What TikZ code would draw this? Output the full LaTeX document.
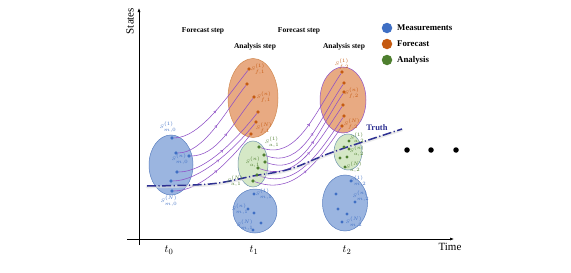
\documentclass[tikz,border=0pt]{standalone}
\usepackage{fontspec}
\setmainfont{Liberation Serif}
\usetikzlibrary{shapes.geometric,arrows.meta,decorations.markings}
\definecolor{mblue}{HTML}{3F6FC4}
\definecolor{mfill}{HTML}{9BB5E0}
\definecolor{mline}{HTML}{5A7FC0}
\definecolor{forange}{HTML}{C55A11}
\definecolor{ffill}{HTML}{E8AA82}
\definecolor{fline}{HTML}{D08850}
\definecolor{agreen}{HTML}{4E7F2F}
\definecolor{afill}{HTML}{D5E8C6}
\definecolor{aline}{HTML}{6F93B0}
\definecolor{cpurple}{HTML}{8E4FC6}
\definecolor{truthblue}{HTML}{2E3192}
\tikzset{
  ell/.style={ellipse, draw, line width=0.5pt, inner sep=0pt},
  meas/.style={ell, fill=mfill, draw=mline},
  fore/.style={ell, fill=ffill, draw=fline},
  anal/.style={ell, fill=afill, draw=aline},
  dotb/.style={circle, fill=mblue, inner sep=0pt, minimum size=3.3pt},
  doto/.style={circle, fill=forange, inner sep=0pt, minimum size=3.3pt},
  dotg/.style={circle, fill=agreen, inner sep=0pt, minimum size=3.3pt},
  lab/.style={inner sep=0pt, font=\fontsize{5.2}{6}\selectfont},
  labb/.style={lab, text=mblue},
  labo/.style={lab, text=forange},
  labg/.style={lab, text=agreen},
  flow/.style={draw=cpurple, line width=0.55pt,
    postaction={decorate},
    decoration={markings, mark=at position 0.5 with {\arrow{Straight Barb[length=1.6pt,width=2.8pt]}}}},
  steptext/.style={font=\fontsize{7.5}{8}\selectfont\bfseries, inner sep=0pt},
  legdot/.style={circle, inner sep=0pt, minimum size=10.5pt},
  legtext/.style={font=\fontsize{8.8}{10}\selectfont\bfseries, anchor=west, inner sep=0pt},
  axis/.style={line width=0.6pt, -{Latex[length=4pt,width=3pt]}},
  axtext/.style={font=\fontsize{11}{12}\selectfont, inner sep=0pt},
}
\begin{document}
\begin{tikzpicture}[x=1pt,y=-1pt]
\useasboundingbox (0,0) rectangle (571,273);

% axes
\coordinate (yb) at (139,245);
\coordinate (yt) at (139,8);
\coordinate (xl) at (127,239);
\coordinate (xr) at (454,239);
\draw[axis] (yb) -- (yt);
\draw[axis] (xl) -- (xr);
\node[axtext, rotate=90] (states) at (130,21) {States};
\node[axtext] (time) at (450,247) {Time};
\node[axtext] (t0) at (169,250) {$t_0$};
\node[axtext] (t1) at (254,250) {$t_1$};
\node[axtext] (t2) at (347,250) {$t_2$};

% step titles
\node[steptext] (fs1) at (203,31) {Forecast step};
\node[steptext] (fs2) at (299,31) {Forecast step};
\node[steptext] (as1) at (255,47) {Analysis step};
\node[steptext] (as2) at (344,47) {Analysis step};

% legend
\node[legdot, fill=mblue] (lg1) at (387,28) {};
\node[legdot, fill=forange] (lg2) at (387,44) {};
\node[legdot, fill=agreen] (lg3) at (387,60) {};
\node[legtext] (lt1) at (397,28) {Measurements};
\node[legtext] (lt2) at (397,44) {Forecast};
\node[legtext] (lt3) at (397,60) {Analysis};

% ellipses
\node[meas, minimum width=44pt, minimum height=60pt] (m0) at (171,165) {};
\node[fore, minimum width=50pt, minimum height=79pt] (f1e) at (253,98) {};
\node[anal, minimum width=30pt, minimum height=46pt] (a1e) at (253,164) {};
\node[meas, minimum width=44pt, minimum height=44pt] (m1) at (255,211) {};
\node[fore, draw=cpurple, minimum width=46pt, minimum height=66pt] (f2e) at (343,100) {};
\node[anal, minimum width=28pt, minimum height=36pt] (a2e) at (348,152) {};
\node[meas, minimum width=45pt, minimum height=56pt] (m2) at (345,203) {};

% measurement t0 points
\node[dotb] (p1) at (172,138) {};
\node[dotb] (p2) at (176,153) {};
\node[dotb] (p3) at (189,156) {};
\node[dotb] (p4) at (177,172) {};
\node[dotb] (p5) at (171,181) {};
\node[dotb] (p6) at (172,191) {};
% forecast t1 points
\node[doto] (f1) at (249,69) {};
\node[doto] (f2) at (247,84) {};
\node[doto] (f3) at (254,97) {};
\node[doto] (f4) at (258,112) {};
\node[doto] (f5) at (256,122) {};
\node[doto] (f6) at (251,134) {};
% analysis t1 points
\node[dotg] (a1) at (259,147) {};
\node[dotg] (a2) at (264,155) {};
\node[dotg] (a3) at (265,162) {};
\node[dotg] (a4) at (258,168) {};
\node[dotg] (a5) at (257,175) {};
\node[dotg] (a6) at (253,181) {};
% forecast t2 points
\node[doto] (g1) at (342,72) {};
\node[doto] (g2) at (344,83) {};
\node[doto] (g3) at (344,92) {};
\node[doto] (g4) at (343,105) {};
\node[doto] (g5) at (344,116) {};
\node[doto] (g6) at (342,126) {};

% flows t0 -> forecast t1
\foreach \s/\e in {p1/f1,p2/f2,p3/f3,p4/f4,p5/f5,p6/f6}
  \draw[flow] (\s) .. controls +(28,0) and +(-22,28) .. (\e);
% flows analysis t1 -> forecast t2
\foreach \s/\e in {a1/g1,a2/g2,a3/g3,a4/g4,a5/g5,a6/g6}
  \draw[flow] (\s) .. controls +(38,14) and +(-28,42) .. (\e);

% truth line
\draw[white!75!gray, line width=2.6pt, line cap=round, opacity=0.6]
  plot[smooth, tension=0.6] coordinates {(147,187) (210,185) (253,177) (290,170) (333,153) (402,130)};
\draw[truthblue, line width=1.5pt, dash pattern=on 9pt off 2.5pt on 1.2pt off 2.5pt]
  plot[smooth, tension=0.6] coordinates {(147,186) (210,184) (253,176) (290,169) (333,152) (402,129)};
\node[font=\fontsize{8.5}{9}\selectfont\bfseries, text=truthblue, inner sep=0pt] (truth) at (377,128) {Truth};

% redraw dots on top of lines
\foreach \n in {p1,p2,p3,p4,p5,p6} \node[dotb] at (\n) {};
\foreach \n in {a1,a2,a3,a4,a5,a6} \node[dotg] at (\n) {};
\foreach \n in {f1,f2,f3,f4,f5,f6,g1,g2,g3,g4,g5,g6} \node[doto] at (\n) {};

% analysis t2 points
\node[dotg] (b1) at (349,141) {};
\node[dotg] (b2) at (344,147) {};
\node[dotg] (b3) at (349,149) {};
\node[dotg] (b4) at (340,158) {};
\node[dotg] (b5) at (347,157) {};
\node[dotg] (b6) at (345,167) {};
% measurement t1 points
\node[dotb] (q1) at (254,194) {};
\node[dotb] (q2) at (248,209) {};
\node[dotb] (q3) at (254,213) {};
\node[dotb] (q4) at (261,223) {};
\node[dotb] (q5) at (253,230) {};
% measurement t2 points
\node[dotb] (r1) at (351,181) {};
\node[dotb] (r2) at (336,194) {};
\node[dotb] (r3) at (355,202) {};
\node[dotb] (r4) at (338,209) {};
\node[dotb] (r5) at (347,214) {};
\node[dotb] (r6) at (342,222) {};

% further time steps
\foreach \x [count=\i] in {407,431,456}
  \node[circle, fill=black, inner sep=0pt, minimum size=5.5pt] (more\i) at (\x,150) {};

% labels
\node[labb] (lm01) at (168,127) {$S^{(1)}_{m,0}$};
\node[labb] (lm0n) at (180,159) {$S^{(n)}_{m,0}$};
\node[labb] (lm0N) at (169,201) {$S^{(N)}_{m,0}$};
\node[labo] (lf11) at (258,69) {$S^{(1)}_{f,1}$};
\node[labo] (lf1n) at (264,97) {$S^{(n)}_{f,1}$};
\node[labo] (lf1N) at (264,128) {$S^{(N)}_{f,1}$};
\node[labg] (la11) at (272,142) {$S^{(1)}_{a,1}$};
\node[labg] (la1n) at (253,162) {$S^{(n)}_{a,1}$};
\node[labg] (la1N) at (235,181) {$S^{(N)}_{a,1}$};
\node[labb] (lm11) at (264,194) {$S^{(1)}_{m,1}$};
\node[labb] (lm1n) at (240,209) {$S^{(n)}_{m,1}$};
\node[labb] (lm1N) at (245,225) {$S^{(N)}_{m,1}$};
\node[labo] (lf21) at (342,64) {$S^{(1)}_{f,2}$};
\node[labo] (lf2n) at (352,93) {$S^{(n)}_{f,2}$};
\node[labo] (lf2N) at (352,124) {$S^{(N)}_{f,2}$};
\node[labg] (la21) at (357,138) {$S^{(1)}_{a,2}$};
\node[labg] (la2n) at (357,151) {$S^{(n)}_{a,2}$};
\node[labg] (la2N) at (354,167) {$S^{(N)}_{a,2}$};
\node[labb] (lm21) at (358,181) {$S^{(1)}_{m,2}$};
\node[labb] (lm2n) at (361,196) {$S^{(n)}_{m,2}$};
\node[labb] (lm2N) at (354,222) {$S^{(N)}_{m,2}$};
\end{tikzpicture}
\end{document}
